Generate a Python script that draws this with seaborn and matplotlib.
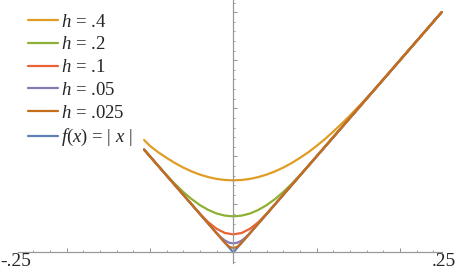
import numpy as np
import pandas as pd
import matplotlib
matplotlib.use("Agg")
import matplotlib.pyplot as plt
import seaborn as sns
from matplotlib.ticker import FixedLocator

# 読み取った値 (各曲線の x, y)
x_abs = [-0.107, 0.0, 0.25]
y_abs = [0.107, 0.0, 0.25]

x_h4 = [-0.107, -0.1, -0.09, -0.08, -0.07, -0.06, -0.05, -0.04, -0.03, -0.02, -0.01,
        0.0, 0.01, 0.02, 0.03, 0.04, 0.05, 0.06, 0.07, 0.08, 0.09,
        0.1, 0.11, 0.12, 0.13, 0.14, 0.15, 0.16, 0.17, 0.18, 0.19, 0.2, 0.25]
y_h4 = [0.117, 0.1109, 0.1042, 0.0984, 0.0930, 0.0883, 0.0843, 0.0810, 0.0784, 0.0765, 0.0754,
        0.075, 0.0754, 0.0765, 0.0784, 0.0810, 0.0843, 0.0883, 0.0930, 0.0984, 0.1042,
        0.1109, 0.1180, 0.1258, 0.1339, 0.1425, 0.1515, 0.1608, 0.1703, 0.1801, 0.1900, 0.2, 0.25]

x_h2 = [-0.107, -0.1, -0.09, -0.08, -0.07, -0.06, -0.05, -0.04, -0.03, -0.02, -0.01,
        0.0, 0.01, 0.02, 0.03, 0.04, 0.05, 0.06, 0.07, 0.08, 0.09, 0.1, 0.25]
y_h2 = [0.107, 0.1, 0.0901, 0.0804, 0.0713, 0.0629, 0.0555, 0.0492, 0.0442, 0.0405, 0.0383,
        0.0375, 0.0383, 0.0405, 0.0442, 0.0492, 0.0555, 0.0629, 0.0713, 0.0804, 0.0901, 0.1, 0.25]

x_h1 = [-0.107, -0.05, -0.04, -0.03, -0.02, -0.01, 0.0, 0.01, 0.02, 0.03, 0.04, 0.05, 0.25]
y_h1 = [0.107, 0.05, 0.0402, 0.0314, 0.0246, 0.0202, 0.0188, 0.0202, 0.0246, 0.0314, 0.0402, 0.05, 0.25]

x_h05 = [-0.107, -0.025, -0.02, -0.015, -0.01, -0.005, 0.0, 0.005, 0.01, 0.015, 0.02, 0.025, 0.25]
y_h05 = [0.107, 0.025, 0.0201, 0.0157, 0.0123, 0.0101, 0.0094, 0.0101, 0.0123, 0.0157, 0.0201, 0.025, 0.25]

x_h025 = [-0.107, -0.0125, -0.01, -0.0075, -0.005, -0.0025, 0.0, 0.0025, 0.005, 0.0075, 0.01, 0.0125, 0.25]
y_h025 = [0.107, 0.0125, 0.0101, 0.0079, 0.0061, 0.0051, 0.0047, 0.0051, 0.0061, 0.0079, 0.0101, 0.0125, 0.25]

labels = [r"$f(x)$ = | $x$ |", r"$h$ = .4", r"$h$ = .2", r"$h$ = .1", r"$h$ = .05", r"$h$ = .025"]
colors = ["#5E81B5", "#E19C24", "#8FB032", "#EB6235", "#8778B3", "#C56E1A"]
xs = [x_abs, x_h4, x_h2, x_h1, x_h05, x_h025]
ys = [y_abs, y_h4, y_h2, y_h1, y_h05, y_h025]

sns.set_style("white")
plt.rcParams['font.family'] = ['Liberation Serif', 'DejaVu Serif']
plt.rcParams['mathtext.fontset'] = 'custom'
plt.rcParams['mathtext.rm'] = 'Liberation Serif'
plt.rcParams['mathtext.it'] = 'Liberation Serif:italic'

fig = plt.figure(figsize=(4.57, 2.70), dpi=100)
ax = fig.add_axes([0, 0, 1, 1])

# 描画順: |x| が一番下
for x, y, lab, c in zip(xs, ys, labels, colors):
    df = pd.DataFrame({'x': x, 'y': y})
    sns.lineplot(data=df, x='x', y='y', ax=ax, color=c, linewidth=1.6,
                 label=lab, sort=False, estimator=None)

ax.set_xlim(-0.2799, 0.2684)
ax.set_ylim(-0.0183, 0.2627)
ax.set_xlabel("")
ax.set_ylabel("")

# 軸スタイル (原点を通る)
axis_col = "#9a9a9a"
for s in ['top', 'right']:
    ax.spines[s].set_visible(False)
ax.spines['left'].set_position(('data', 0))
ax.spines['bottom'].set_position(('data', 0))
ax.spines['left'].set_bounds(-0.0115, 0.2627)
ax.spines['bottom'].set_bounds(-0.258, 0.25)
for s in ['left', 'bottom']:
    ax.spines[s].set_color(axis_col)
    ax.spines[s].set_linewidth(0.9)

ax.xaxis.set_major_locator(FixedLocator([-0.2, -0.1, 0.1, 0.2]))
ax.xaxis.set_minor_locator(FixedLocator([-0.24, -0.22, -0.18, -0.16, -0.14, -0.12, -0.08, -0.06,
                                         -0.04, -0.02, 0.02, 0.04, 0.06, 0.08, 0.12, 0.14,
                                         0.16, 0.18, 0.22, 0.24]))
ax.yaxis.set_major_locator(FixedLocator([0.05, 0.1, 0.15, 0.2, 0.25]))
ax.yaxis.set_minor_locator(FixedLocator([-0.01, 0.01, 0.02, 0.03, 0.04, 0.06, 0.07, 0.08, 0.09,
                                         0.11, 0.12, 0.13, 0.14, 0.16, 0.17, 0.18, 0.19,
                                         0.21, 0.22, 0.23, 0.24, 0.26]))
ax.tick_params(which='both', bottom=True, left=True, top=False, right=False)
ax.tick_params(which='major', direction='in', length=3.0, width=0.7, color="#909090",
               labelbottom=False, labelleft=False)
ax.tick_params(which='minor', direction='in', length=1.6, width=0.6, color="#909090")

fig.text(0 / 457, 1 - 262 / 270, "-.25", ha='left', va='center', fontsize=14)
fig.text(456 / 457, 1 - 262 / 270, ".25", ha='right', va='center', fontsize=14)

# 凡例 (h の順、最後に f(x))
handles, labs = ax.get_legend_handles_labels()
order = [1, 2, 3, 4, 5, 0]
ax.legend([handles[i] for i in order], [labs[i] for i in order],
          loc='upper left', bbox_to_anchor=(28 / 457, 1 - 13.5 / 270),
          frameon=False, fontsize=13.5, handlelength=1.6, handletextpad=0.15,
          labelspacing=0.3, borderpad=0, borderaxespad=0)

fig.savefig("out.png", dpi=100)
